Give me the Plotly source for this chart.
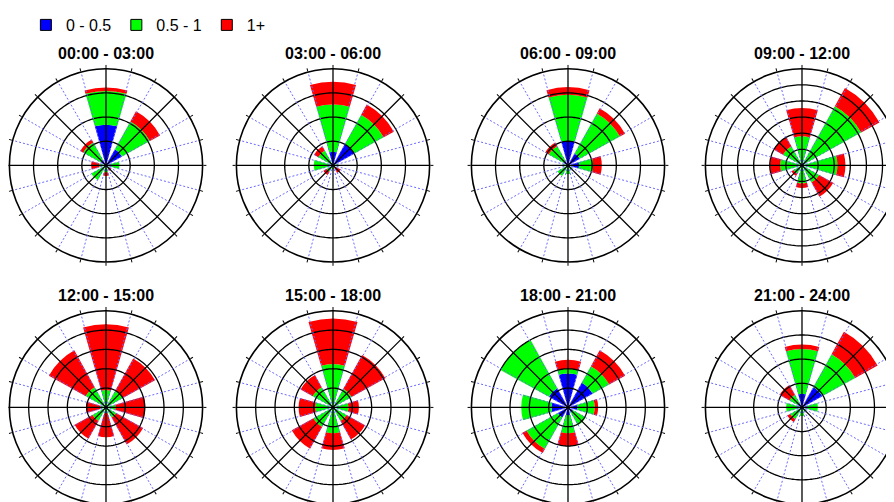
import numpy as np
import plotly.graph_objects as go

# ---------------- data ----------------
directions = ["N", "NE", "E", "SE", "S", "SW", "W", "NW"]
direction_deg = [0, 45, 90, 135, 180, 225, 270, 315]
speed_bins = ["0 - 0.5", "0.5 - 1", "1+"]
periods = ["00:00 - 03:00", "03:00 - 06:00", "06:00 - 09:00", "09:00 - 12:00",
           "12:00 - 15:00", "15:00 - 18:00", "18:00 - 21:00", "21:00 - 24:00"]

# frequency (%) per direction, one row per period
freq_low = [  # 0 - 0.5
    [8.4, 3.8, 0.8, 0.3, 0.5, 0.5, 0.5, 1.3],
    [2.8, 5.0, 0.5, 0.3, 0.3, 0.3, 0.8, 0.5],
    [5.0, 2.8, 2.3, 0.5, 0.5, 0.5, 0.3, 1.0],
    [0.5, 1.0, 0.5, 0.3, 0.3, 0.5, 0.3, 0.3],
    [0.1, 0.1, 0.1, 0.1, 0.1, 0.1, 0.1, 0.1],
    [0.1, 0.1, 0.1, 0.1, 0.1, 0.1, 0.1, 0.1],
    [8.8, 7.3, 2.5, 1.5, 2.0, 3.0, 4.3, 5.7],
    [2.8, 4.8, 1.0, 0.5, 0.5, 0.5, 0.8, 1.0],
]
freq_mid = [  # 0.5 - 1
    [7.0, 6.6, 2.0, 0.5, 1.0, 3.0, 0.9, 4.1],
    [9.8, 7.0, 0.5, 0.3, 0.5, 1.2, 3.2, 3.0],
    [9.6, 9.5, 2.9, 0.5, 1.3, 2.0, 0.8, 3.6],
    [8.5, 20.0, 10.5, 5.8, 5.3, 2.5, 6.5, 6.5],
    [4.4, 4.8, 2.4, 2.9, 1.4, 3.9, 1.4, 5.9],
    [11.1, 5.4, 3.9, 3.9, 6.6, 5.7, 4.5, 5.9],
    [1.2, 4.9, 4.4, 3.8, 4.7, 9.3, 7.8, 14.4],
    [9.3, 7.8, 2.3, 0.5, 1.3, 2.3, 2.5, 2.0],
]
freq_high = [  # 1+
    [0.7, 2.4, 0.0, 0.5, 0.7, 0.0, 1.7, 0.7],
    [4.7, 2.4, 0.0, 1.2, 0.0, 0.8, 0.0, 1.0],
    [1.6, 1.2, 1.8, 0.0, 0.0, 0.0, 0.0, 0.8],
    [8.8, 6.5, 2.5, 5.0, 1.4, 0.8, 3.1, 3.3],
    [17.0, 9.6, 7.7, 8.0, 6.2, 5.3, 3.7, 10.9],
    [11.8, 10.0, 2.7, 5.5, 4.3, 6.4, 4.3, 3.6],
    [2.3, 4.7, 0.9, 0.0, 3.3, 1.2, 0.0, 0.0],
    [0.9, 5.3, 0.0, 0.0, 0.0, 0.7, 0.0, 2.3],
]
ring_step = 5                      # % per grid circle
ring_count = [4, 4, 4, 6, 5, 5, 5, 4]

# ---------------- style ----------------
bin_colors = ["#0000ff", "#00ff00", "#ff0000"]
bar_width = 32
W, H = 894, 502
OFF = 8                            # page offset of the plot div (body margin)
col_cx = [106, 333, 568, 802]      # page pixel centres
row_cy = [164, 407]
RAD = 97
title_dy = 112
font_family = "Liberation Sans, Arial, sans-serif"

fig = go.Figure()
layout_upd = {}
annotations = []
series = [freq_low, freq_mid, freq_high]

for i in range(8):
    row, col = divmod(i, 4)
    pname = "polar" if i == 0 else f"polar{i+1}"
    sub = pname
    cx, cy = col_cx[col] - OFF, row_cy[row] - OFF
    x0 = max(0.0, (cx - RAD) / W); x1 = min(1.0, (cx + RAD) / W)
    y0 = max(0.0, (H - (cy + RAD)) / H); y1 = min(1.0, (H - (cy - RAD)) / H)
    rmax = ring_count[i] * ring_step

    for k in range(3):
        fig.add_trace(go.Barpolar(
            r=series[k][i], theta=direction_deg, width=[bar_width] * 8,
            marker=dict(color=bin_colors[k], line=dict(width=0)),
            name=speed_bins[k], showlegend=False, subplot=sub,
            hoverinfo="skip"))

    layout_upd[pname] = dict(
        domain=dict(x=[x0, x1], y=[y0, y1]),
        bgcolor="white",
        barmode="stack",
        radialaxis=dict(range=[0, rmax], showgrid=False, showline=False,
                        showticklabels=False, ticks=""),
        angularaxis=dict(rotation=90, direction="clockwise", showgrid=False,
                         showticklabels=False, ticks="outside", ticklen=3,
                         tickwidth=1.2, tickcolor="black", tickmode="linear",
                         tick0=0, dtick=15, showline=True, linecolor="black",
                         linewidth=1.6),
    )
    annotations.append(dict(
        text=f"<b>{periods[i]}</b>", x=cx / W, y=(H - (cy - title_dy)) / H,
        xref="paper", yref="paper", showarrow=False, xanchor="center",
        yanchor="middle", font=dict(family=font_family, size=16, color="black")))

# grid drawn above the bars
for i in range(8):
    sub = "polar" if i == 0 else f"polar{i+1}"
    rmax = ring_count[i] * ring_step
    circ_t = np.linspace(0, 360, 241)
    rr, tt = [], []
    for k in range(1, ring_count[i]):
        rr += [k * ring_step] * len(circ_t) + [None]
        tt += list(circ_t) + [None]
    fig.add_trace(go.Scatterpolar(r=rr, theta=tt, mode="lines", subplot=sub,
                                  line=dict(color="black", width=1.3),
                                  showlegend=False, hoverinfo="skip"))
    dr, dt, br, bt = [], [], [], []
    for a in range(0, 360, 15):
        if a % 45 == 0:
            br += [0, rmax, None]; bt += [a, a, None]
        else:
            dr += [0, rmax, None]; dt += [a, a, None]
    fig.add_trace(go.Scatterpolar(r=dr, theta=dt, mode="lines", subplot=sub,
                                  line=dict(color="rgb(105,105,255)", width=1, dash="2px,2px"),
                                  showlegend=False, hoverinfo="skip"))
    fig.add_trace(go.Scatterpolar(r=br, theta=bt, mode="lines", subplot=sub,
                                  line=dict(color="black", width=1.3),
                                  showlegend=False, hoverinfo="skip"))

# legend entries
for k in range(3):
    fig.add_trace(go.Scatterpolar(
        r=[None], theta=[None], mode="markers", name=speed_bins[k], subplot="polar",
        marker=dict(symbol="square", size=11, color=bin_colors[k],
                    line=dict(color="black", width=1)),
        showlegend=True))

fig.update_layout(
    width=W, height=H, margin=dict(l=0, r=0, t=0, b=0),
    paper_bgcolor="white", plot_bgcolor="white",
    font=dict(family=font_family, size=16, color="black"),
    legend=dict(orientation="h", x=0.02, y=1.004, xanchor="left", yanchor="top",
                font=dict(family=font_family, size=16), bgcolor="rgba(0,0,0,0)"),
    annotations=annotations,
    **layout_upd,
)
fig.write_html("out.html")
